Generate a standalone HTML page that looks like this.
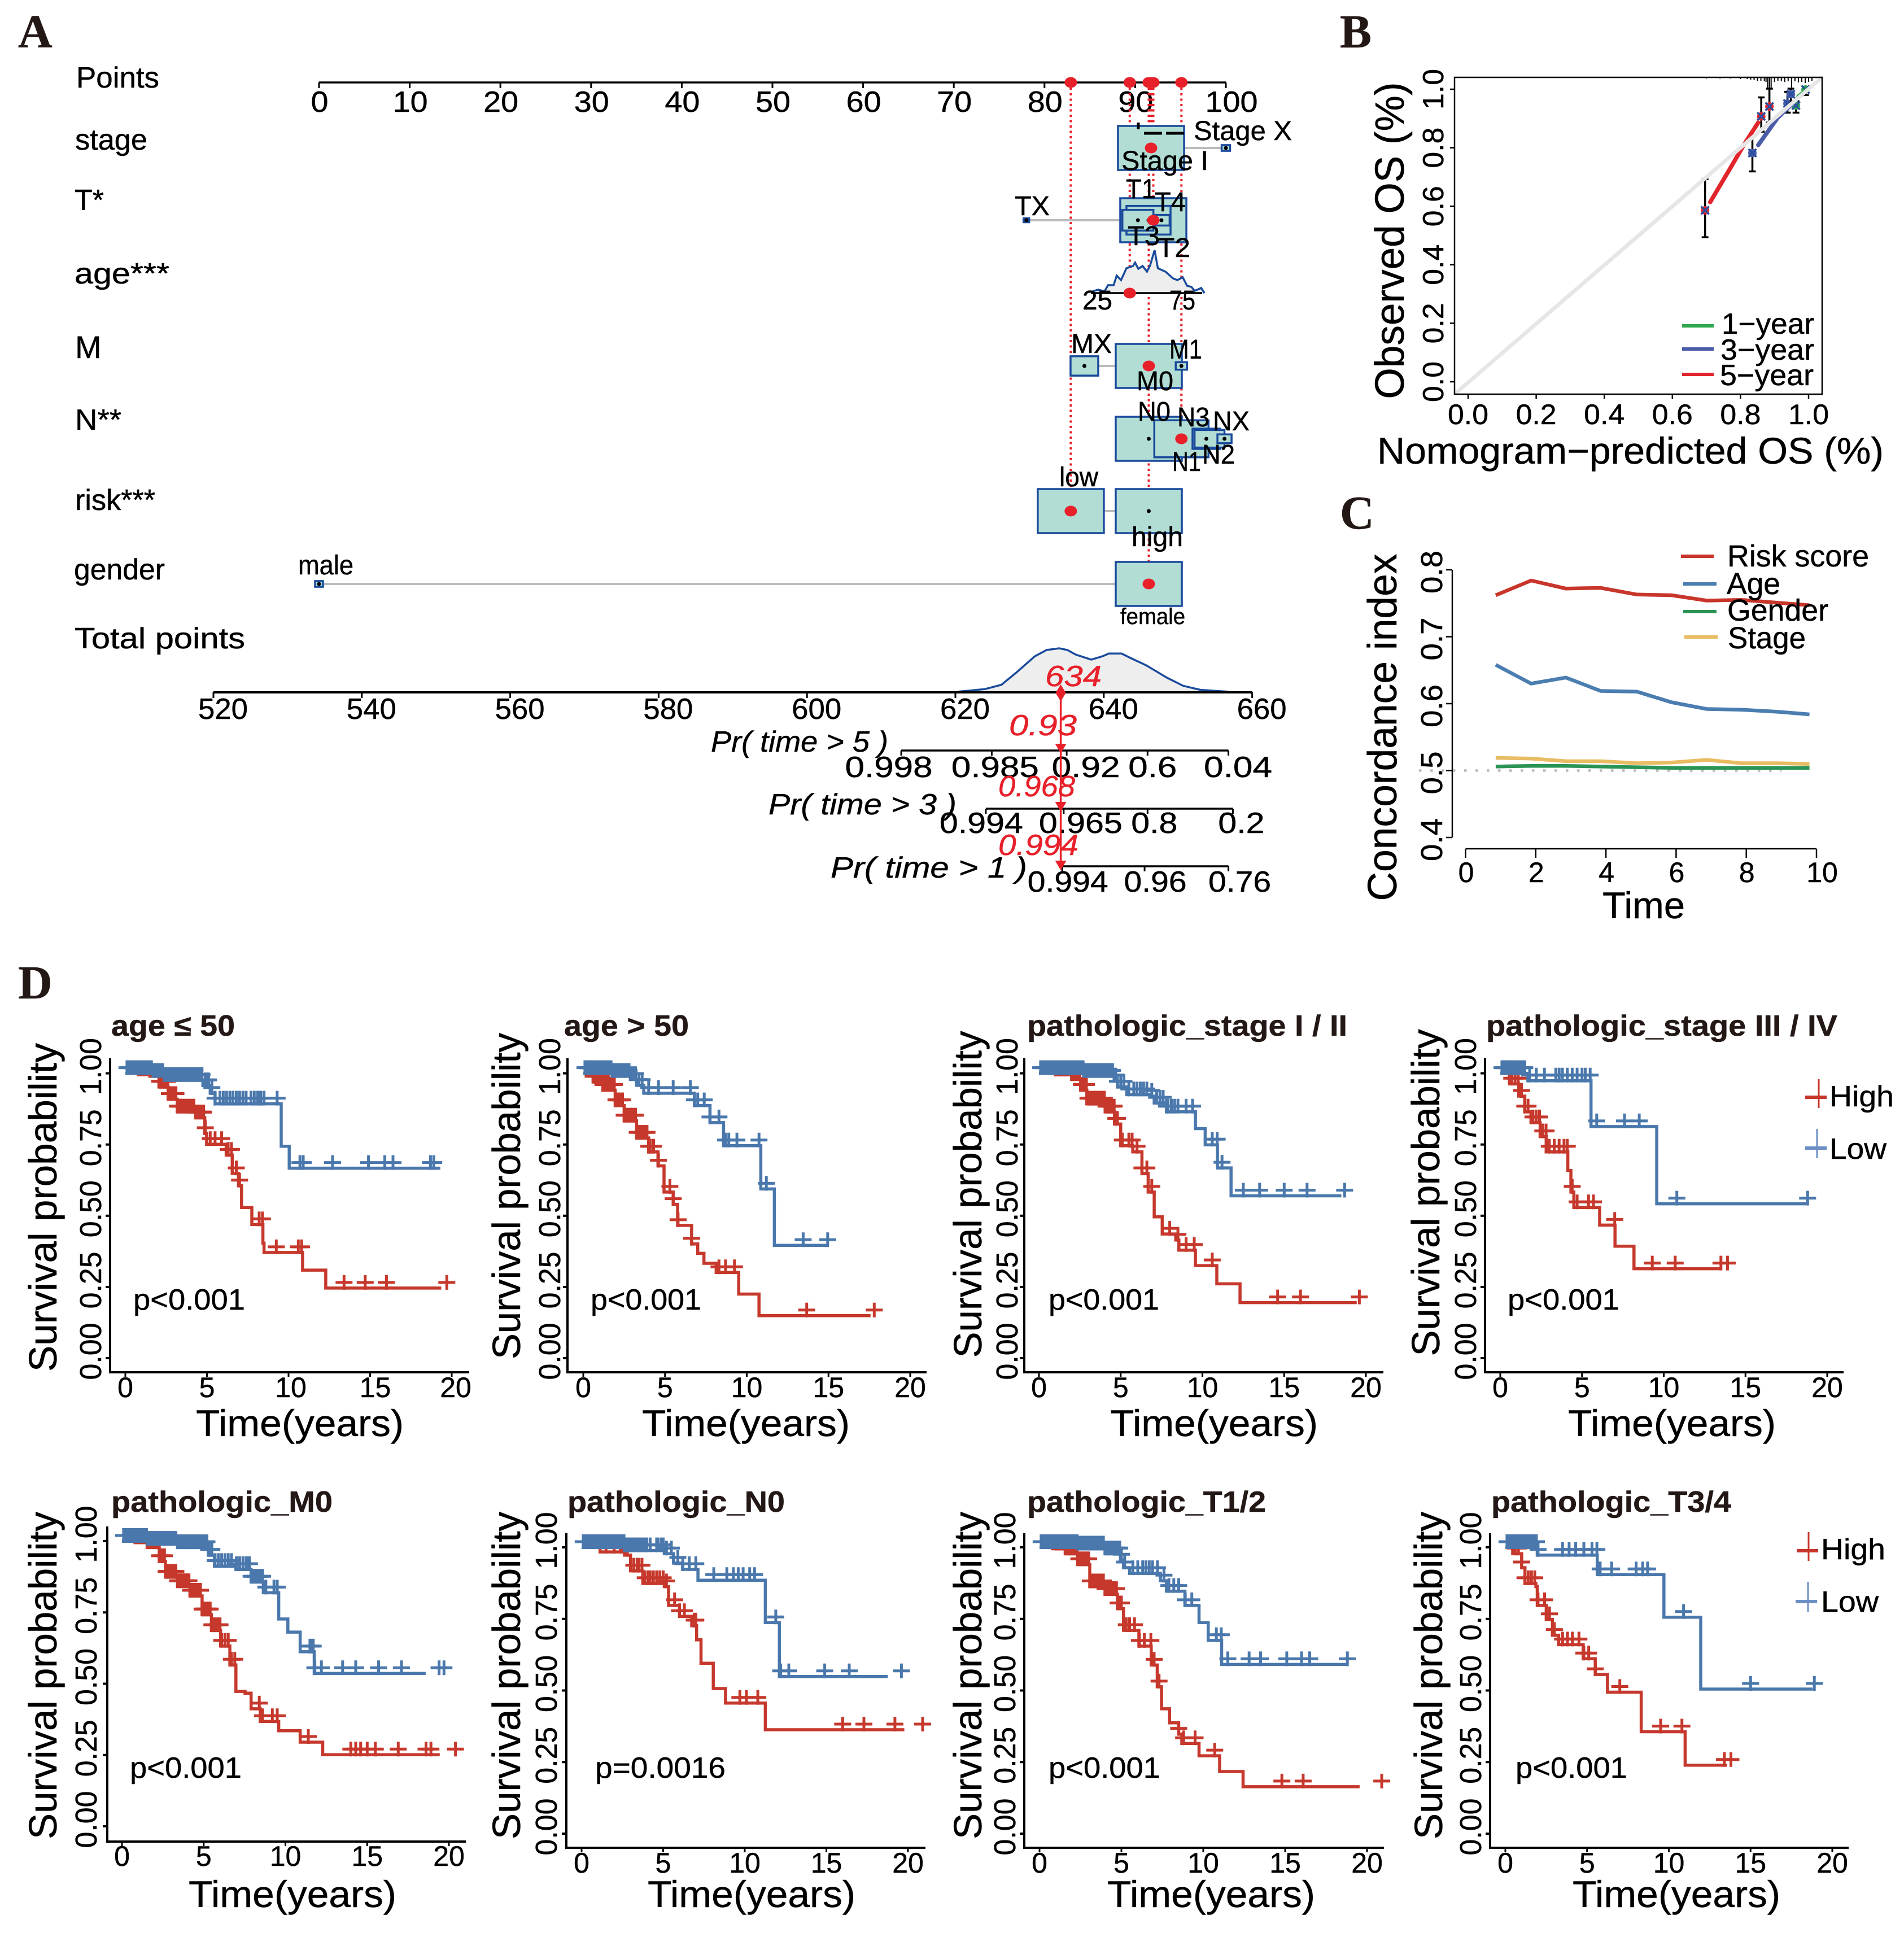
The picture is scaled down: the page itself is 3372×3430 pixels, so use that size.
<!DOCTYPE html>
<html lang="en">
<head>
<meta charset="utf-8">
<title>Nomogram, calibration, concordance and survival panels</title>
<style>
html,body{margin:0;padding:0;background:#fff;}
svg{display:block;}
text{font-family:"Liberation Sans",sans-serif;fill:#000;stroke:#000;stroke-width:.5px;}
.tag{font-family:"Liberation Serif",serif;font-weight:bold;font-size:84px;fill:#231815;stroke:#231815;}
.ttl{font-weight:bold;font-size:52px;fill:#231815;stroke:#231815;}
.ital{font-style:italic;font-size:52px;}
.redt{fill:#e8202a;stroke:#e8202a;}
</style>
</head>
<body>
<svg id="root" width="3372" height="3430" viewBox="0 0 3372 3430">
<rect width="3372" height="3430" fill="#fff"/>
<text class="tag" x="32" y="84">A</text>
<text class="tag" x="2373" y="84">B</text>
<text class="tag" x="2373" y="936">C</text>
<text class="tag" x="32" y="1768">D</text>

<g id="panelA">
<g font-size="52">
<text x="135" y="155" textLength="147" lengthAdjust="spacingAndGlyphs">Points</text>
<text x="133" y="265" textLength="128" lengthAdjust="spacingAndGlyphs">stage</text>
<text x="132" y="372">T*</text>
<text x="132" y="502" textLength="168" lengthAdjust="spacingAndGlyphs">age***</text>
<text x="133" y="634" font-size="56">M</text>
<text x="133" y="761" textLength="82" lengthAdjust="spacingAndGlyphs">N**</text>
<text x="133" y="903" textLength="142" lengthAdjust="spacingAndGlyphs">risk***</text>
<text x="131" y="1026" textLength="161" lengthAdjust="spacingAndGlyphs">gender</text>
<text x="132" y="1148" textLength="302" lengthAdjust="spacingAndGlyphs">Total points</text>
</g>
<g id="nomoMarks"></g>
<g font-size="48">
<text x="2114" y="248" textLength="174" lengthAdjust="spacingAndGlyphs">Stage X</text>
<text x="1986" y="301" textLength="154" lengthAdjust="spacingAndGlyphs">Stage I</text>
<text x="1994" y="351" textLength="53" lengthAdjust="spacingAndGlyphs">T1</text>
<text x="2045" y="374" textLength="55" lengthAdjust="spacingAndGlyphs">T4</text>
<text x="1797" y="381" textLength="62" lengthAdjust="spacingAndGlyphs">TX</text>
<text x="1997" y="434" textLength="57" lengthAdjust="spacingAndGlyphs">T3</text>
<text x="2050" y="455" textLength="58" lengthAdjust="spacingAndGlyphs">T2</text>
<text x="1917" y="548" textLength="53" lengthAdjust="spacingAndGlyphs">25</text>
<text x="2071" y="548" textLength="46" lengthAdjust="spacingAndGlyphs">75</text>
<text x="1897" y="625" textLength="72" lengthAdjust="spacingAndGlyphs">MX</text>
<text x="2071" y="635" textLength="58" lengthAdjust="spacingAndGlyphs">M1</text>
<text x="2013" y="691" textLength="65" lengthAdjust="spacingAndGlyphs">M0</text>
<text x="2015" y="745" textLength="58" lengthAdjust="spacingAndGlyphs">N0</text>
<text x="2085" y="755" textLength="57" lengthAdjust="spacingAndGlyphs">N3</text>
<text x="2148" y="762" textLength="65" lengthAdjust="spacingAndGlyphs">NX</text>
<text x="2129" y="821" textLength="58" lengthAdjust="spacingAndGlyphs">N2</text>
<text x="2076" y="834" textLength="51" lengthAdjust="spacingAndGlyphs">N1</text>
<text x="1876" y="861" textLength="69" lengthAdjust="spacingAndGlyphs">low</text>
<text x="2004" y="967" textLength="91" lengthAdjust="spacingAndGlyphs">high</text>
<text x="528" y="1017" textLength="98" lengthAdjust="spacingAndGlyphs">male</text>
<text x="1984" y="1105" font-size="40" textLength="115" lengthAdjust="spacingAndGlyphs">female</text>
</g>
<text class="ital" x="1259" y="1331" textLength="314" lengthAdjust="spacingAndGlyphs">Pr( time &gt; 5 )</text>
<text class="ital" x="1361" y="1442" textLength="333" lengthAdjust="spacingAndGlyphs">Pr( time &gt; 3 )</text>
<text class="ital" x="1471" y="1554" textLength="348" lengthAdjust="spacingAndGlyphs">Pr( time &gt; 1 )</text>
<g class="ital">
<text class="redt" x="1851" y="1215" textLength="100" lengthAdjust="spacingAndGlyphs">634</text>
<text class="redt" x="1787" y="1302" textLength="120" lengthAdjust="spacingAndGlyphs">0.93</text>
<text class="redt" x="1768" y="1410" textLength="136" lengthAdjust="spacingAndGlyphs">0.968</text>
<text class="redt" x="1768" y="1514" textLength="142" lengthAdjust="spacingAndGlyphs">0.994</text>
</g>
</g>

<g id="panelB">
<g id="calMarks"></g>
<text transform="translate(2486,426) rotate(-90)" text-anchor="middle" font-size="72" textLength="561" lengthAdjust="spacingAndGlyphs">Observed OS (%)</text>
<text x="2439" y="821" font-size="66" textLength="897" lengthAdjust="spacingAndGlyphs">Nomogram−predicted OS (%)</text>
<g font-size="52">
<line x1="2979" x2="3035" y1="577" y2="577" stroke="#2fa84f" stroke-width="6"/>
<line x1="2979" x2="3035" y1="618" y2="618" stroke="#4a5ba8" stroke-width="6"/>
<line x1="2979" x2="3035" y1="663" y2="663" stroke="#e2252b" stroke-width="6"/>
<text x="3049" y="591" textLength="164" lengthAdjust="spacingAndGlyphs">1−year</text>
<text x="3047" y="637" textLength="166" lengthAdjust="spacingAndGlyphs">3−year</text>
<text x="3046" y="682" textLength="166" lengthAdjust="spacingAndGlyphs">5−year</text>
</g>
</g>

<g id="panelC">
<g id="cMarks"></g>
<text transform="translate(2473,1288) rotate(-90)" text-anchor="middle" font-size="72" textLength="615" lengthAdjust="spacingAndGlyphs">Concordance index</text>
<text x="2838" y="1626" font-size="66" textLength="146" lengthAdjust="spacingAndGlyphs">Time</text>
<g font-size="54">
<line x1="2977" x2="3035" y1="985" y2="985" stroke="#c8362b" stroke-width="6"/>
<line x1="2981" x2="3040" y1="1034" y2="1034" stroke="#4a7db0" stroke-width="6"/>
<line x1="2981" x2="3040" y1="1083" y2="1083" stroke="#2a9455" stroke-width="6"/>
<line x1="2983" x2="3042" y1="1128" y2="1128" stroke="#e8bc63" stroke-width="6"/>
<text x="3059" y="1003" textLength="251" lengthAdjust="spacingAndGlyphs">Risk score</text>
<text x="3058" y="1052" textLength="95" lengthAdjust="spacingAndGlyphs">Age</text>
<text x="3059" y="1099" textLength="179" lengthAdjust="spacingAndGlyphs">Gender</text>
<text x="3060" y="1148" textLength="138" lengthAdjust="spacingAndGlyphs">Stage</text>
</g>
</g>

<g id="panelD">
<g id="kmMarks"></g>

<g>
<text class="ttl" x="197" y="1834" textLength="219" lengthAdjust="spacingAndGlyphs">age ≤ 50</text>
<text transform="translate(100,2138) rotate(-90)" text-anchor="middle" font-size="70" textLength="582" lengthAdjust="spacingAndGlyphs">Survival probability</text>
<text x="531" y="2543" text-anchor="middle" font-size="66" textLength="368" lengthAdjust="spacingAndGlyphs">Time(years)</text>
<text x="236" y="2319" font-size="52" textLength="198" lengthAdjust="spacingAndGlyphs">p&lt;0.001</text>
</g>
<g>
<text class="ttl" x="999" y="1834" textLength="221" lengthAdjust="spacingAndGlyphs">age &gt; 50</text>
<text transform="translate(921,2118) rotate(-90)" text-anchor="middle" font-size="70" textLength="578" lengthAdjust="spacingAndGlyphs">Survival probability</text>
<text x="1321" y="2543" text-anchor="middle" font-size="66" textLength="368" lengthAdjust="spacingAndGlyphs">Time(years)</text>
<text x="1046" y="2319" font-size="52" textLength="196" lengthAdjust="spacingAndGlyphs">p&lt;0.001</text>
</g>
<g>
<text class="ttl" x="1819" y="1834" textLength="567" lengthAdjust="spacingAndGlyphs">pathologic_stage I / II</text>
<text transform="translate(1738,2115) rotate(-90)" text-anchor="middle" font-size="70" textLength="579" lengthAdjust="spacingAndGlyphs">Survival probability</text>
<text x="2150" y="2543" text-anchor="middle" font-size="66" textLength="368" lengthAdjust="spacingAndGlyphs">Time(years)</text>
<text x="1857" y="2319" font-size="52" textLength="196" lengthAdjust="spacingAndGlyphs">p&lt;0.001</text>
</g>
<g>
<text class="ttl" x="2632" y="1834" textLength="622" lengthAdjust="spacingAndGlyphs">pathologic_stage III / IV</text>
<text transform="translate(2549,2112) rotate(-90)" text-anchor="middle" font-size="70" textLength="579" lengthAdjust="spacingAndGlyphs">Survival probability</text>
<text x="2961" y="2543" text-anchor="middle" font-size="66" textLength="368" lengthAdjust="spacingAndGlyphs">Time(years)</text>
<text x="2670" y="2319" font-size="52" textLength="198" lengthAdjust="spacingAndGlyphs">p&lt;0.001</text>
<g font-size="52">
<path d="M3197 1943H3235" stroke="#c8362b" stroke-width="6" fill="none"/>
<path d="M3221 1911V1962" stroke="#c8362b" stroke-width="3" fill="none"/>
<text x="3240" y="1959" textLength="114" lengthAdjust="spacingAndGlyphs">High</text>
<path d="M3197 2033H3235" stroke="#6b8fc4" stroke-width="6" fill="none"/>
<path d="M3218 1999V2051" stroke="#6b8fc4" stroke-width="3" fill="none"/>
<text x="3240" y="2052" textLength="101" lengthAdjust="spacingAndGlyphs">Low</text>
</g>
</g>
<g>
<text class="ttl" x="197" y="2677" textLength="392" lengthAdjust="spacingAndGlyphs">pathologic_M0</text>
<text transform="translate(100,2967) rotate(-90)" text-anchor="middle" font-size="70" textLength="580" lengthAdjust="spacingAndGlyphs">Survival probability</text>
<text x="518" y="3377" text-anchor="middle" font-size="66" textLength="368" lengthAdjust="spacingAndGlyphs">Time(years)</text>
<text x="230" y="3148" font-size="52" textLength="198" lengthAdjust="spacingAndGlyphs">p&lt;0.001</text>
</g>
<g>
<text class="ttl" x="1005" y="2677" textLength="385" lengthAdjust="spacingAndGlyphs">pathologic_N0</text>
<text transform="translate(921,2967) rotate(-90)" text-anchor="middle" font-size="70" textLength="580" lengthAdjust="spacingAndGlyphs">Survival probability</text>
<text x="1331" y="3377" text-anchor="middle" font-size="66" textLength="368" lengthAdjust="spacingAndGlyphs">Time(years)</text>
<text x="1054" y="3148" font-size="52" textLength="231" lengthAdjust="spacingAndGlyphs">p=0.0016</text>
</g>
<g>
<text class="ttl" x="1819" y="2677" textLength="423" lengthAdjust="spacingAndGlyphs">pathologic_T1/2</text>
<text transform="translate(1738,2967) rotate(-90)" text-anchor="middle" font-size="70" textLength="580" lengthAdjust="spacingAndGlyphs">Survival probability</text>
<text x="2145" y="3377" text-anchor="middle" font-size="66" textLength="368" lengthAdjust="spacingAndGlyphs">Time(years)</text>
<text x="1857" y="3148" font-size="52" textLength="198" lengthAdjust="spacingAndGlyphs">p&lt;0.001</text>
</g>
<g>
<text class="ttl" x="2641" y="2677" textLength="425" lengthAdjust="spacingAndGlyphs">pathologic_T3/4</text>
<text transform="translate(2554,2967) rotate(-90)" text-anchor="middle" font-size="70" textLength="580" lengthAdjust="spacingAndGlyphs">Survival probability</text>
<text x="2969" y="3377" text-anchor="middle" font-size="66" textLength="368" lengthAdjust="spacingAndGlyphs">Time(years)</text>
<text x="2684" y="3148" font-size="52" textLength="198" lengthAdjust="spacingAndGlyphs">p&lt;0.001</text>
<g font-size="52">
<path d="M3182 2746H3220" stroke="#c8362b" stroke-width="6" fill="none"/>
<path d="M3203 2713V2764" stroke="#c8362b" stroke-width="3" fill="none"/>
<text x="3225" y="2761" textLength="114" lengthAdjust="spacingAndGlyphs">High</text>
<path d="M3180 2836H3218" stroke="#6b8fc4" stroke-width="6" fill="none"/>
<path d="M3202 2801V2854" stroke="#6b8fc4" stroke-width="3" fill="none"/>
<text x="3225" y="2854" textLength="102" lengthAdjust="spacingAndGlyphs">Low</text>
</g>
</g>
</g>
</svg>

<script>
/* ---------- Panel A data ---------- */
const pointsTicks = [0,10,20,30,40,50,60,70,80,90,100];
const stageCenters = [91.75,100.0];
const stageWidths = [7.29,0.93];
const stageHeights = [1,0.13];
const tCenters = [92.0,91.47,90.3,92.9,78.0];
const tWidths = [7.29,4.86,3.42,1.8,0.62];
const tHeights = [1,0.65,0.47,0.24,0.09];
const mCenters = [91.5,84.4,95.1];
const mWidths = [7.29,3.05,1.25];
const mHeights = [1,0.44,0.17];
const nCenters = [91.5,95.1,97.85,98.2,99.85];
const nWidths = [7.29,5.98,3.05,3.3,1.56];
const nHeights = [1,0.84,0.46,0.4,0.2];
const riskCenters = [82.9,91.5];
const riskWidths = [7.29,7.29];
const riskHeights = [1,1];
const genderCenters = [91.5,0];
const genderWidths = [7.29,0.87];
const genderHeights = [1,0.13];
const selectedPoints = [91.75,92.0,89.4,91.5,95.1,82.9,91.5];
const ageGrid = [15.7,20.1,23.7,25.8,29,30.8,33.3,36.4,40.2,41.4,43.3,45.8,48.3,50.1,52.7,54.6,59,63.4,65.9,69,71.5,74,75.9,79.7,81.6];
const ageDensity = [2,6,3,14,14,31,23,44,48,54,43,48,38,49,76,44,38,26,23,28,13,11,4,9,0];
const totalTicks = [520,540,560,580,600,620,640,660];
const totalGrid = [620.4,624,626.2,628.2,630.7,632.3,634,635.1,636.2,638.3,639.8,640.7,642.4,643.5,645.7,648.5,650.7,653,656.9];
const totalDensity = [1.3,5.8,13.4,34.8,63.8,75,78,75,67,58,63.8,68.7,68.7,61.5,48,26,11.6,4.5,1];
const totalSelected = 634.2;
const prFiveTotals = [612.7,624.9,635,645.9,656.8];
const prFiveLabels = ['0.998','0.985','0.92','0.6','0.04'];
const prThreeTotals = [624.1,634.6,645.9,657.4];
const prThreeLabels = ['0.994','0.965','0.8','0.2'];
const prOneTotals = [634.4,645.5,656.8];
const prOneLabels = ['0.994','0.96','0.76'];

/* ---------- Panel B data ---------- */
const calTicks = [0,0.2,0.4,0.6,0.8,1];
const calTickLabels = ['0.0','0.2','0.4','0.6','0.8','1.0'];
const fiveYearPred = [0.711,0.77,0.81,0.852];
const fiveYearObs = [0.614,0.73,0.81,0.886];
const threeYearPred = [0.852,0.909,0.965];
const threeYearObs = [0.809,0.902,0.965];
const oneYearPred = [0.97,0.998];
const oneYearObs = [0.975,1.0];
const errPred = [0.696,0.835,0.861,0.885,0.938,0.948,0.963,0.991];
const errObs = [0.586,0.782,0.907,0.941,0.951,0.983,0.944,0.999];
const errLow = [0.494,0.719,0.855,0.886,0.92,0.944,0.92,0.98];
const errHigh = [0.693,0.844,0.972,1.002,0.991,1.002,0.96,1.007];
const errSeries = ['5','3','5','5','3','3','1','1'];
const rugPred = [0.6,0.65,0.7,0.74,0.77,0.8,0.82,0.83,0.84,0.85,0.86,0.87,0.875,0.88,0.885,0.89,0.9,0.91,0.92,0.93,0.94,0.95,0.96,0.97,0.98,0.99,1.0,1.01];
const rugCount = [1,1,2,2,2,3,3,4,5,6,6,7,8,20,20,20,8,6,7,8,7,18,7,9,8,10,8,6];

/* ---------- Panel C data ---------- */
const cXTicks = [0,2,4,6,8,10];
const cYTicks = [0.4,0.5,0.6,0.7,0.8];
const cYTickLabels = ['0.4','0.5','0.6','0.7','0.8'];
const cTime = [0.86,1.87,2.86,3.85,4.88,5.87,6.87,7.86,8.86,9.8];
const cRisk = [0.762,0.784,0.772,0.773,0.763,0.762,0.754,0.755,0.751,0.747];
const cAge = [0.658,0.630,0.639,0.619,0.618,0.602,0.592,0.591,0.588,0.584];
const cGender = [0.506,0.507,0.507,0.506,0.505,0.504,0.504,0.504,0.504,0.504];
const cStage = [0.519,0.518,0.514,0.514,0.511,0.512,0.516,0.511,0.511,0.510];

/* ---------- Panel D data ---------- */
const kmXTicks = [0,5,10,15,20];
const kmYTicks = [0,0.25,0.5,0.75,1];
const kmYTickLabels = ['0.00','0.25','0.50','0.75','1.00'];

const p1LowT = [0,1.7,2.4,4.75,5.2,5.5,9.55,10.04,19.3];
const p1LowS = [1,0.99,0.976,0.957,0.93,0.893,0.744,0.667,0.667];
const p1LowC = [0.1,0.2,0.3,0.4,0.5,0.6,0.7,0.8,0.9,1,1.1,1.2,1.3,1.4,1.5,1.6,1.7,1.8,1.9,2,2.1,2.2,2.3,2.4,2.5,2.6,2.7,2.8,2.9,3,3.1,3.2,3.3,3.4,3.5,3.6,3.7,3.8,3.9,4,4.1,4.2,4.3,4.4,4.5,4.6,4.7,4.9,5,5.1,5.3,5.5,5.8,6,6.2,6.4,6.6,6.8,7,7.2,7.4,7.7,7.9,8.1,8.2,8.3,8.5,9.3,10.7,10.9,12.7,14.9,15.9,16.4,18.7,18.9];
const p1HighT = [0,0.8,1.5,2.06,2.62,3.18,4.3,4.87,4.98,6.18,6.55,6.93,7.12,7.75,8.2,8.43,8.5,10.86,12.28,19.36];
const p1HighS = [1,0.995,0.99,0.952,0.909,0.865,0.844,0.789,0.751,0.713,0.648,0.605,0.529,0.469,0.469,0.404,0.371,0.309,0.246,0.246];
const p1HighC = [1.6,1.7,1.8,1.9,2,2.1,2.2,2.3,2.4,2.5,2.6,2.7,2.8,2.9,3,3.1,3.2,3.3,3.4,3.5,3.6,3.7,3.8,3.9,4,4.1,4.2,4.3,4.4,4.5,4.6,4.7,4.8,4.9,5.2,5.5,5.9,6.3,6.5,6.8,7,8.2,8.4,9.25,10.6,10.8,13.4,14.7,16,19.7];

const p2LowT = [0,1.76,2.88,3.26,3.7,6.8,7.75,8.58,10.86,11.69,14.87];
const p2LowS = [1,0.99,0.979,0.958,0.93,0.887,0.827,0.746,0.594,0.396,0.396];
const p2LowC = [0.1,0.2,0.3,0.4,0.5,0.6,0.7,0.8,0.9,1,1.1,1.2,1.3,1.4,1.5,1.6,1.7,1.8,1.9,2,2.1,2.2,2.3,2.4,2.5,2.6,2.7,2.8,2.9,3,3.1,3.2,3.4,3.6,4,4.6,5.5,6.55,6.8,7,7.4,7.75,8.3,8.7,8.9,9.4,10.75,11.2,13.45,14.95];
const p2HighT = [0,0.6,1.2,1.95,2.5,3.26,4,4.57,4.94,5.5,5.77,6.44,6.63,7,7.38,8.13,9.51,10.75,17.57];
const p2HighS = [1,0.97,0.941,0.887,0.833,0.773,0.724,0.675,0.583,0.54,0.466,0.466,0.401,0.368,0.333,0.301,0.225,0.149,0.149];
const p2HighC = [0.3,0.4,0.5,0.6,0.7,0.8,0.9,1,1.1,1.2,1.3,1.4,1.5,1.6,1.7,1.8,1.9,2,2.1,2.2,2.3,2.4,2.5,2.6,2.7,2.8,2.9,3,3.1,3.2,3.3,3.4,3.5,3.6,3.7,3.8,3.9,4,4.1,4.3,4.6,5.3,5.5,5.8,6.63,8.3,8.7,9.25,13.67,17.8];

const p3LowT = [0,2.74,4.6,4.8,5.37,6.87,7.05,7.8,9.57,10.17,10.92,11.75,18.5];
const p3LowS = [1,0.99,0.974,0.952,0.925,0.92,0.896,0.865,0.806,0.749,0.668,0.57,0.57];
const p3LowC = [0.1,0.2,0.3,0.4,0.5,0.6,0.7,0.8,0.9,1,1.1,1.2,1.3,1.4,1.5,1.6,1.7,1.8,1.9,2,2.1,2.2,2.3,2.4,2.5,2.6,2.7,2.8,2.9,3,3.1,3.2,3.3,3.4,3.5,3.6,3.7,3.8,3.9,4,4.1,4.2,4.3,4.4,4.5,4.6,4.7,4.8,5,5.2,5.5,5.8,6,6.2,6.4,6.6,6.9,7.2,7.4,7.6,7.8,7.9,8.1,8.3,8.5,9,9.4,10.6,10.9,11.2,12.5,13.5,15,16.4,18.7];
const p3HighT = [0,1,2,2.55,2.93,4.05,4.62,5,5.74,6.3,6.68,7.05,7.54,8.37,8.56,9.57,10.88,12.3,19.44];
const p3HighS = [1,0.995,0.979,0.941,0.893,0.865,0.822,0.746,0.724,0.648,0.583,0.496,0.436,0.415,0.379,0.325,0.261,0.195,0.195];
const p3HighC = [1,1.2,1.4,1.6,1.8,2,2.1,2.2,2.3,2.4,2.5,2.6,2.7,2.8,2.9,3,3.1,3.2,3.3,3.4,3.5,3.6,3.7,3.8,3.9,4,4.1,4.2,4.3,4.4,4.5,4.6,4.7,4.8,5.1,5.5,5.7,6,6.3,6.6,6.9,8,8.5,9,9.5,10.6,14.6,16,19.6];

const p4LowT = [0,1.69,5.55,9.57,18.7];
const p4LowS = [1,0.974,0.813,0.542,0.542];
const p4LowC = [0.1,0.2,0.3,0.4,0.5,0.6,0.7,0.8,0.9,1,1.1,1.2,1.3,1.4,1.5,1.8,2.2,2.7,3.4,3.6,3.8,4.1,4.4,4.7,5,5.2,5.5,5.9,7.6,8.5,10.8,18.8];
const p4HighT = [0,0.56,1.13,1.5,1.88,2.44,2.81,4.13,4.32,4.5,5.25,6.08,7.02,8.18,13.5];
const p4HighS = [1,0.963,0.92,0.865,0.827,0.778,0.724,0.659,0.583,0.529,0.529,0.467,0.393,0.314,0.314];
const p4HighC = [0.3,0.5,0.7,0.9,1.1,1.3,1.5,1.7,2,2.2,2.4,2.6,2.8,3,3.3,3.6,3.9,4.1,4.4,4.7,5.4,5.7,7,9.3,10.7,13.5,13.9];

const p5LowT = [0,1.54,3.4,5.28,5.66,6.97,7.9,8.65,9.59,10.15,10.9,11.76,18.58];
const p5LowS = [1,0.99,0.978,0.951,0.912,0.901,0.857,0.819,0.727,0.681,0.612,0.536,0.536];
const p5LowC = [0.1,0.2,0.3,0.4,0.5,0.6,0.7,0.8,0.9,1,1.1,1.2,1.3,1.4,1.5,1.6,1.7,1.8,1.9,2,2.1,2.2,2.3,2.4,2.5,2.6,2.7,2.8,2.9,3,3.1,3.2,3.3,3.4,3.5,3.6,3.7,3.8,3.9,4,4.1,4.2,4.3,4.4,4.5,4.6,4.7,4.8,4.9,5,5.1,5.2,5.3,5.4,5.5,5.7,5.9,6.1,6.3,6.5,6.7,7,7.2,7.4,7.6,7.7,7.8,7.9,8,8.1,8.2,8.3,8.4,8.5,8.6,8.8,9.3,9.5,11.5,11.6,11.7,11.8,12.2,13.5,14.3,15.7,17.1,19.4,19.7];
const p5HighT = [0,0.8,1.54,2.28,2.66,3.4,4.16,4.9,5.47,6.03,6.6,6.97,7.53,7.9,8.46,9.59,10.9,12.28,19.44];
const p5HighS = [1,0.995,0.978,0.929,0.874,0.841,0.808,0.742,0.687,0.632,0.566,0.473,0.467,0.412,0.368,0.335,0.295,0.251,0.251];
const p5HighC = [0.5,0.6,0.7,0.8,0.9,1,1.1,1.2,1.3,1.4,1.5,1.6,1.7,1.8,1.9,2,2.1,2.2,2.3,2.4,2.5,2.6,2.7,2.8,2.9,3,3.1,3.2,3.3,3.4,3.5,3.6,3.7,3.8,3.9,4,4.1,4.2,4.3,4.4,4.5,4.6,4.7,4.8,4.9,5,5.1,5.2,5.3,5.4,5.5,5.6,5.7,5.8,5.9,6,6.1,6.3,6.5,6.7,6.9,8.4,8.6,9.2,9.5,11.4,14,14.3,14.6,15,15.5,16.9,18.6,18.9,20.4];

const p6LowT = [0,2.63,5.07,5.63,6.19,7.13,11.26,12.12,18.76];
const p6LowS = [1,0.989,0.978,0.945,0.923,0.885,0.737,0.549,0.549];
const p6LowC = [0.1,0.2,0.3,0.4,0.5,0.6,0.7,0.8,0.9,1,1.1,1.2,1.3,1.4,1.5,1.6,1.7,1.8,1.9,2,2.1,2.2,2.3,2.4,2.5,2.6,2.7,2.8,2.9,3,3.1,3.2,3.3,3.4,3.5,3.6,3.7,3.8,3.9,4,4.2,4.6,4.7,4.9,5,5.2,5.5,5.9,6.2,6.6,7,8.1,8.9,9.3,9.6,9.9,10.3,10.6,11.9,12.2,12.7,14.9,16.4,19.6];
const p6HighT = [0,1.13,2.63,3,3.75,5.07,5.33,6,6.75,7.05,7.32,8.07,8.82,11.26,19.78];
const p6HighS = [1,0.984,0.973,0.918,0.874,0.863,0.797,0.759,0.726,0.677,0.595,0.507,0.456,0.363,0.363];
const p6HighC = [1,1.5,2,2.4,2.8,3.2,3.4,3.5,3.7,3.9,4.1,4.2,4.4,4.6,4.8,5,5.2,5.7,6,6.3,6.9,7,9.7,10.1,10.8,16,17.3,19.2,20.9];

const p7LowT = [0,2.32,4,4.94,5.13,5.5,7.38,7.75,8.88,9.74,10.3,11.12,18.8];
const p7LowS = [1,0.995,0.978,0.956,0.929,0.909,0.883,0.847,0.797,0.737,0.675,0.591,0.591];
const p7LowC = [0.1,0.2,0.3,0.4,0.5,0.6,0.7,0.8,0.9,1,1.1,1.2,1.3,1.4,1.5,1.6,1.7,1.8,1.9,2,2.1,2.2,2.3,2.4,2.5,2.6,2.7,2.8,2.9,3,3.1,3.2,3.3,3.4,3.5,3.6,3.7,3.8,3.9,4,4.1,4.2,4.3,4.4,4.5,4.6,4.7,4.8,4.9,5,5.2,5.7,6,6.3,6.5,6.7,6.9,7.2,7.6,7.9,8.2,8.5,8.9,9.3,10.8,11.1,11.5,12.8,13.5,15.1,16,16.5,18.8];
const p7HighT = [0,0.8,1.57,2.32,3.07,4,4.76,5.13,6.07,6.82,7.19,7.45,7.94,8.5,8.69,9.74,11,12.43,19.55];
const p7HighS = [1,0.995,0.978,0.94,0.863,0.836,0.786,0.71,0.655,0.589,0.513,0.436,0.387,0.348,0.315,0.272,0.217,0.164,0.164];
const p7HighC = [1,1.1,1.2,1.3,1.4,1.5,1.6,1.7,1.8,1.9,2,2.1,2.2,2.3,2.4,2.5,2.6,2.7,2.8,2.9,3,3.1,3.2,3.3,3.4,3.5,3.6,3.7,3.8,3.9,4,4.1,4.2,4.3,4.4,4.5,4.6,4.7,4.8,4.9,5,5.3,5.5,5.8,6.1,6.4,6.8,7,7.3,8.5,8.8,9.5,10.7,14.8,16.1,20.9];

const p8LowT = [0,1.95,5.62,9.7,11.95,18.8];
const p8LowS = [1,0.973,0.905,0.756,0.505,0.505];
const p8LowC = [0.1,0.2,0.3,0.4,0.5,0.6,0.7,0.8,0.9,1,1.1,1.2,1.3,1.4,1.5,1.6,1.7,1.8,1.9,2,3.5,3.9,4.3,4.8,5.3,5.6,5.8,6.5,8,8.4,8.7,10.9,15,18.9];
const p8HighT = [0,0.45,1,1.2,1.87,1.95,2.5,2.88,3.26,4.76,5.5,6.25,8.31,11,13.56];
const p8HighS = [1,0.978,0.929,0.874,0.863,0.797,0.748,0.693,0.66,0.611,0.556,0.494,0.356,0.239,0.239];
const p8HighC = [0.4,0.6,0.8,1,1.2,1.4,1.6,1.8,2,2.4,2.7,3,3.5,3.8,4.1,4.5,4.8,5.1,5.5,7,9.5,10.8,13.4,13.8];

/* ---------- helpers ---------- */
const root = document.getElementById('root');
const NS = root.namespaceURI;
const RED = '#e8202a', BOXB = '#1a4a9c', BOXF = '#b2ddd4', GREY = '#bbbbbb';

function mk(tag, parent, attrs, txt) {
  const n = document.createElementNS(NS, tag);
  for (const k in attrs) n.setAttribute(k, attrs[k]);
  if (txt !== undefined) n.textContent = txt;
  parent.appendChild(n);
  return n;
}
function emOf(s) {
  let w = 0;
  for (const c of s) w += (c === '.') ? 0.278 : 0.556;
  return w;
}
function linePath(xs, ys, fx, fy) {
  let d = '';
  xs.forEach(function (v, i) { d += (i ? 'L' : 'M') + fx(v).toFixed(1) + ' ' + fy(ys[i]).toFixed(1); });
  return d;
}

/* ---------- Panel A ---------- */
(function () {
  const g = document.getElementById('nomoMarks');
  const xP = function (p) { return 565 + 16.06 * p; };
  const xT = function (t) { return 378 + 13.14 * (t - 520); };
  const xAge = function (a) { return 1960 + (a - 25) * 3.06; };

  /* points axis */
  const axis = mk('line', g, {x1: xP(0), x2: xP(100), y1: 146, y2: 146, stroke: '#000', 'stroke-width': 3.5});
  
  
  pointsTicks.forEach(function (p) {
    const t = mk('line', g, {x1: xP(p), x2: xP(p), y1: 146, y2: 156, stroke: '#000', 'stroke-width': 3});
    
    
    const s = String(p);
    const shift = p === 100 ? 10 : 1;
    const lab = mk('text', g, {x: xP(p) + shift, y: 198, 'text-anchor': 'middle', 'font-size': 52, textLength: (emOf(s) * 56).toFixed(0), lengthAdjust: 'spacingAndGlyphs'}, s);
    
    
  });

  /* selected guides */
  const rowY = [262, 390, 519, 648, 777, 905, 1034];
  selectedPoints.forEach(function (p, i) {
    const l = mk('line', g, {x1: xP(p), x2: xP(p), y1: 146, y2: rowY[i], stroke: RED, 'stroke-width': 4, 'stroke-dasharray': '4 5.5'});
    
    
  });

  /* age density */
  const yAge = function (h) { return 519 - h; };
  const ageArea = mk('path', g, {d: linePath(ageGrid, ageDensity, xAge, yAge) + 'Z', fill: '#eeeeee', stroke: 'none'});
  
  
  const ageLine = mk('path', g, {d: linePath(ageGrid, ageDensity, xAge, yAge), fill: 'none', stroke: BOXB, 'stroke-width': 3.5});
  
  
  const ageAxis = mk('line', g, {x1: 1932, x2: 2129, y1: 519, y2: 519, stroke: '#000', 'stroke-width': 3.5});
  
  

  /* categorical rows */
  const rows = [
    {y: 262, c: stageCenters, w: stageWidths, h: stageHeights, dots: [1]},
    {y: 390, c: tCenters, w: tWidths, h: tHeights, dots: [1, 2, 3, 4]},
    {y: 648, c: mCenters, w: mWidths, h: mHeights, dots: [1, 2]},
    {y: 777, c: nCenters, w: nWidths, h: nHeights, dots: [0, 2, 4]},
    {y: 905, c: riskCenters, w: riskWidths, h: riskHeights, dots: [1]},
    {y: 1034, c: genderCenters, w: genderWidths, h: genderHeights, dots: [1]}
  ];
  rows.forEach(function (r) {
    const lo = Math.min.apply(null, r.c), hi = Math.max.apply(null, r.c);
    const conn = mk('line', g, {x1: xP(lo), x2: xP(hi), y1: r.y, y2: r.y, stroke: GREY, 'stroke-width': 4});
    
    
    r.c.forEach(function (c, i) {
      const wpx = r.w[i] * 16.06, hpx = r.h[i] * 78;
      const b = mk('rect', g, {x: xP(c) - wpx / 2, y: r.y - hpx / 2, width: wpx, height: hpx, fill: BOXF, stroke: BOXB, 'stroke-width': 3.5});
      
      
    });
    r.dots.forEach(function (i) {
      const d = mk('circle', g, {cx: xP(r.c[i]), cy: r.y, r: 3.5, fill: '#000'});
      
      
    });
  });

  /* stray stage marks */
  const stray = mk('path', g, {d: 'M2016 217V229M2026 236H2058M2065 236H2097', stroke: '#000', 'stroke-width': 5, fill: 'none'});
  
  

  /* red selected dots */
  selectedPoints.forEach(function (p, i) {
    const a = mk('ellipse', g, {cx: xP(p), cy: 146, rx: 11, ry: 9.5, fill: RED});
    
    
    const b = mk('ellipse', g, {cx: xP(p), cy: rowY[i], rx: 11, ry: 9.5, fill: RED});
    
    
  });

  /* total points */
  const yTot = function (h) { return 1226 - h; };
  const totArea = mk('path', g, {d: linePath(totalGrid, totalDensity, xT, yTot) + 'Z', fill: '#eeeeee', stroke: 'none'});
  
  
  const totLine = mk('path', g, {d: linePath(totalGrid, totalDensity, xT, yTot), fill: 'none', stroke: BOXB, 'stroke-width': 3.5});
  
  
  const totAxis = mk('line', g, {x1: xT(520), x2: xT(660), y1: 1226, y2: 1226, stroke: '#000', 'stroke-width': 4});
  
  
  totalTicks.forEach(function (t) {
    const k = mk('line', g, {x1: xT(t), x2: xT(t), y1: 1226, y2: 1236, stroke: '#000', 'stroke-width': 3});
    
    
    const lab = mk('text', g, {x: xT(t) + 17, y: 1273, 'text-anchor': 'middle', 'font-size': 52, textLength: 88, lengthAdjust: 'spacingAndGlyphs'}, String(t));
    
    
  });

  /* probability scales */
  const scales = [
    {y: 1329, totals: prFiveTotals, labels: prFiveLabels, shift: [-22, 6, 34, 9, 17], by: 1376, f: 62},
    {y: 1432, totals: prThreeTotals, labels: prThreeLabels, shift: [-8, 30, 12, 15], by: 1475, f: 59},
    {y: 1534, totals: prOneTotals, labels: prOneLabels, shift: [10, 19, 20], by: 1579, f: 57}
  ];
  scales.forEach(function (s) {
    const n = s.totals.length;
    const ax = mk('line', g, {x1: xT(s.totals[0]), x2: xT(s.totals[n - 1]), y1: s.y, y2: s.y, stroke: '#000', 'stroke-width': 3.5});
    
    
    s.totals.forEach(function (t, i) {
      const k = mk('line', g, {x1: xT(t), x2: xT(t), y1: s.y, y2: s.y + 9, stroke: '#000', 'stroke-width': 3});
      
      
      const lab = mk('text', g, {x: xT(t) + s.shift[i], y: s.by, 'text-anchor': 'middle', 'font-size': 52, textLength: (emOf(s.labels[i]) * s.f).toFixed(0), lengthAdjust: 'spacingAndGlyphs'}, s.labels[i]);
      
      
    });
  });

  /* selected total + arrows */
  const sx = xT(totalSelected);
  const drop = mk('line', g, {x1: sx, x2: sx, y1: 1226, y2: 1535, stroke: RED, 'stroke-width': 3.5});
  
  
  const dia = mk('polygon', g, {points: [sx, 1212, sx + 9, 1227, sx, 1242, sx - 9, 1227].join(','), fill: RED});
  
  
  [1334, 1437, 1541].forEach(function (tip) {
    const a = mk('polygon', g, {points: [sx - 10, tip - 17, sx + 10, tip - 17, sx, tip].join(','), fill: RED});
    
    
  });
})();

/* ---------- Panel B ---------- */
(function () {
  const g = document.getElementById('calMarks');
  const x = function (v) { return 2600 + 603 * v; };
  const y = function (v) { return 676 - 518 * v; };
  const col = {'1': '#2fa84f', '3': '#4a5ba8', '5': '#e2252b'};

  rugPred.forEach(function (p, i) {
    const r = mk('line', g, {x1: x(p), x2: x(p), y1: 137, y2: 137 + rugCount[i], stroke: '#000', 'stroke-width': 2});
    
    
  });

  errPred.forEach(function (p, i) {
    const e = mk('path', g, {d: 'M' + x(p) + ' ' + y(errLow[i]) + 'V' + y(errHigh[i]) + 'M' + (x(p) - 6) + ' ' + y(errLow[i]) + 'h12M' + (x(p) - 6) + ' ' + y(errHigh[i]) + 'h12', stroke: '#000', 'stroke-width': 3.5, fill: 'none'});
    
    
    const d = mk('circle', g, {cx: x(p), cy: y(errObs[i]), r: 7.5, fill: col[errSeries[i]]});
    
    
    const m = mk('path', g, {d: 'M' + (x(p) - 7) + ' ' + (y(errObs[i]) - 7) + 'l14 14m0 -14l-14 14', stroke: '#2a4fa0', 'stroke-width': 3.5, fill: 'none'});
    
    
  });

  const s5 = mk('path', g, {d: linePath(fiveYearPred, fiveYearObs, x, y), fill: 'none', stroke: col['5'], 'stroke-width': 7.5, 'stroke-linecap': 'round'});
  
  
  const s3 = mk('path', g, {d: linePath(threeYearPred, threeYearObs, x, y), fill: 'none', stroke: col['3'], 'stroke-width': 7.5, 'stroke-linecap': 'round'});
  
  
  const s1 = mk('path', g, {d: linePath(oneYearPred, oneYearObs, x, y), fill: 'none', stroke: col['1'], 'stroke-width': 7.5, 'stroke-linecap': 'round'});
  
  

  const diag = mk('line', g, {x1: 2576, y1: 698, x2: 3227, y2: 137, stroke: '#e6e6e6', 'stroke-width': 7});
  
  
  const box = mk('rect', g, {x: 2576, y: 137, width: 651, height: 561, fill: 'none', stroke: '#000', 'stroke-width': 2.5});
  
  

  calTicks.forEach(function (v, i) {
    const ty = mk('line', g, {x1: 2568, x2: 2576, y1: y(v), y2: y(v), stroke: '#000', 'stroke-width': 2.5});
    
    
    const ly = mk('text', g, {transform: 'translate(2556,' + y(v) + ') rotate(-90)', 'text-anchor': 'middle', 'font-size': 52, textLength: 72, lengthAdjust: 'spacingAndGlyphs'}, calTickLabels[i]);
    
    
    const tx = mk('line', g, {x1: x(v), x2: x(v), y1: 698, y2: 706, stroke: '#000', 'stroke-width': 2.5});
    
    
    const lx = mk('text', g, {x: x(v), y: 751, 'text-anchor': 'middle', 'font-size': 50, textLength: 72, lengthAdjust: 'spacingAndGlyphs'}, calTickLabels[i]);
    
    
  });
})();

/* ---------- Panel C ---------- */
(function () {
  const g = document.getElementById('cMarks');
  const x = function (t) { return 2595.5 + 62.15 * t; };
  const y = function (v) { return 1483 - (v - 0.4) * 1185; };

  const yAxis = mk('line', g, {x1: 2572, x2: 2572, y1: y(0.8), y2: y(0.4), stroke: '#000', 'stroke-width': 2.5});
  
  
  const xAxis = mk('line', g, {x1: x(0), x2: x(10), y1: 1503, y2: 1503, stroke: '#000', 'stroke-width': 2.5});
  
  

  cYTicks.forEach(function (v, i) {
    const t = mk('line', g, {x1: 2561, x2: 2572, y1: y(v), y2: y(v), stroke: '#000', 'stroke-width': 2.5});
    
    
    const l = mk('text', g, {transform: 'translate(2554,' + (y(v) + 4) + ') rotate(-90)', 'text-anchor': 'middle', 'font-size': 54, textLength: 76, lengthAdjust: 'spacingAndGlyphs'}, cYTickLabels[i]);
    
    
  });
  cXTicks.forEach(function (v) {
    const t = mk('line', g, {x1: x(v), x2: x(v), y1: 1503, y2: 1519, stroke: '#000', 'stroke-width': 2.5});
    
    
    const l = mk('text', g, {x: x(v) + (v === 10 ? 10 : 1), y: 1562, 'text-anchor': 'middle', 'font-size': 50}, String(v));
    
    
  });

  const ref = mk('line', g, {x1: 2513, x2: 3155, y1: y(0.5), y2: y(0.5), stroke: '#bbbbbb', 'stroke-width': 4.5, 'stroke-dasharray': '4.5 15.5'});
  
  

  const gen = mk('path', g, {d: linePath(cTime, cGender, x, y), fill: 'none', stroke: '#2a9455', 'stroke-width': 6.5});
  
  
  const stg = mk('path', g, {d: linePath(cTime, cStage, x, y), fill: 'none', stroke: '#e8bc63', 'stroke-width': 6.5});
  
  
  const ag = mk('path', g, {d: linePath(cTime, cAge, x, y), fill: 'none', stroke: '#4a7db0', 'stroke-width': 6.5});
  
  
  const rk = mk('path', g, {d: linePath(cTime, cRisk, x, y), fill: 'none', stroke: '#c8362b', 'stroke-width': 6.5});
  
  
})();

/* ---------- Panel D ---------- */
(function () {
  const g = document.getElementById('kmMarks');
  const layouts = [
    {x0: 222, x20: 800, y1: 1900.6, y0: 2405, left: 195, right: 831, top: 1874, bottom: 2430, yLab: 179, xLab: 2474, xShift: [0,0,4,9,7], series: [p1HighT, p1HighS, p1HighC, p1LowT, p1LowS, p1LowC]},
    {x0: 1033, x20: 1612, y1: 1900.6, y0: 2405, left: 1005, right: 1641, top: 1874, bottom: 2430, yLab: 992, xLab: 2474, xShift: [0,0,0,0,0], series: [p2HighT, p2HighS, p2HighC, p2LowT, p2LowS, p2LowC]},
    {x0: 1840, x20: 2419, y1: 1900.6, y0: 2405, left: 1814, right: 2450, top: 1874, bottom: 2430, yLab: 1802, xLab: 2474, xShift: [0,0,0,0,0], series: [p3HighT, p3HighS, p3HighC, p3LowT, p3LowS, p3LowC]},
    {x0: 2657, x20: 3236, y1: 1900.6, y0: 2405, left: 2630, right: 3265, top: 1874, bottom: 2430, yLab: 2614, xLab: 2474, xShift: [0,0,0,0,0], series: [p4HighT, p4HighS, p4HighC, p4LowT, p4LowS, p4LowC]},
    {x0: 216, x20: 795, y1: 2729, y0: 3234, left: 190, right: 825, top: 2703, bottom: 3261, yLab: 171, xLab: 3304, xShift: [0,0,0,0,0], series: [p5HighT, p5HighS, p5HighC, p5LowT, p5LowS, p5LowC]},
    {x0: 1030, x20: 1608, y1: 2740, y0: 3247, left: 1003, right: 1639, top: 2715, bottom: 3272, yLab: 986, xLab: 3316, xShift: [0,0,0,0,0], series: [p6HighT, p6HighS, p6HighC, p6LowT, p6LowS, p6LowC]},
    {x0: 1841, x20: 2421, y1: 2740, y0: 3247, left: 1814, right: 2451, top: 2715, bottom: 3272, yLab: 1798, xLab: 3316, xShift: [0,0,0,0,0], series: [p7HighT, p7HighS, p7HighC, p7LowT, p7LowS, p7LowC]},
    {x0: 2666, x20: 3245, y1: 2740, y0: 3247, left: 2639, right: 3274, top: 2715, bottom: 3272, yLab: 2623, xLab: 3316, xShift: [0,0,0,0,0], series: [p8HighT, p8HighS, p8HighC, p8LowT, p8LowS, p8LowC]}
  ];
  function stepAt(T, S, t) {
    let v = S[0];
    for (let i = 0; i < T.length; i++) { if (T[i] <= t) v = S[i]; }
    return v;
  }
  function drawCurve(pg, T, S, C, color, x, y, nameCurve, nameCensor) {
    let d = 'M' + x(T[0]).toFixed(1) + ' ' + y(S[0]).toFixed(1);
    for (let i = 1; i < T.length; i++) d += 'H' + x(T[i]).toFixed(1) + 'V' + y(S[i]).toFixed(1);
    const c = mk('path', pg, {d: d, fill: 'none', stroke: color, 'stroke-width': 5.5});
    
    
    C.forEach(function (t) {
      const cx = x(t), cy = y(stepAt(T, S, t)) - 10;
      const m = mk('path', pg, {d: 'M' + (cx - 15).toFixed(1) + ' ' + cy.toFixed(1) + 'h30M' + cx.toFixed(1) + ' ' + (cy - 13).toFixed(1) + 'v26', fill: 'none', stroke: color, 'stroke-width': 5});
      
      
    });
  }
  layouts.forEach(function (L) {
    const pg = mk('g', g, {});
    
    
    const x = function (t) { return L.x0 + (L.x20 - L.x0) * t / 20; };
    const y = function (s) { return L.y0 - (L.y0 - L.y1) * s; };
    const spineY = mk('line', pg, {x1: L.left, x2: L.left, y1: L.top, y2: L.bottom + 2, stroke: '#000', 'stroke-width': 4});
    
    
    const spineX = mk('line', pg, {x1: L.left, x2: L.right, y1: L.bottom, y2: L.bottom, stroke: '#000', 'stroke-width': 4});
    
    
    kmXTicks.forEach(function (t, i) {
      const k = mk('line', pg, {x1: x(t), x2: x(t), y1: L.bottom, y2: L.bottom + 8, stroke: '#000', 'stroke-width': 3});
      
      
      const s = String(t);
      const l = mk('text', pg, {x: x(t) + L.xShift[i], y: L.xLab, 'text-anchor': 'middle', 'font-size': 50}, s);
      
      
    });
    kmYTicks.forEach(function (v, i) {
      const k = mk('line', pg, {x1: L.left - 8, x2: L.left, y1: y(v), y2: y(v), stroke: '#000', 'stroke-width': 4});
      
      
      const l = mk('text', pg, {transform: 'translate(' + L.yLab + ',' + (y(v) - 12) + ') rotate(-90)', 'text-anchor': 'middle', 'font-size': 54, textLength: 101, lengthAdjust: 'spacingAndGlyphs'}, kmYTickLabels[i]);
      
      
    });
    const A = L.series;
    drawCurve(pg, A[0], A[1], A[2], '#c6382c', x, y, 'survival-curve-high', 'censor-mark-high');
    drawCurve(pg, A[3], A[4], A[5], '#4a78ac', x, y, 'survival-curve-low', 'censor-mark-low');
  });
})();
</script>
</body>
</html>
